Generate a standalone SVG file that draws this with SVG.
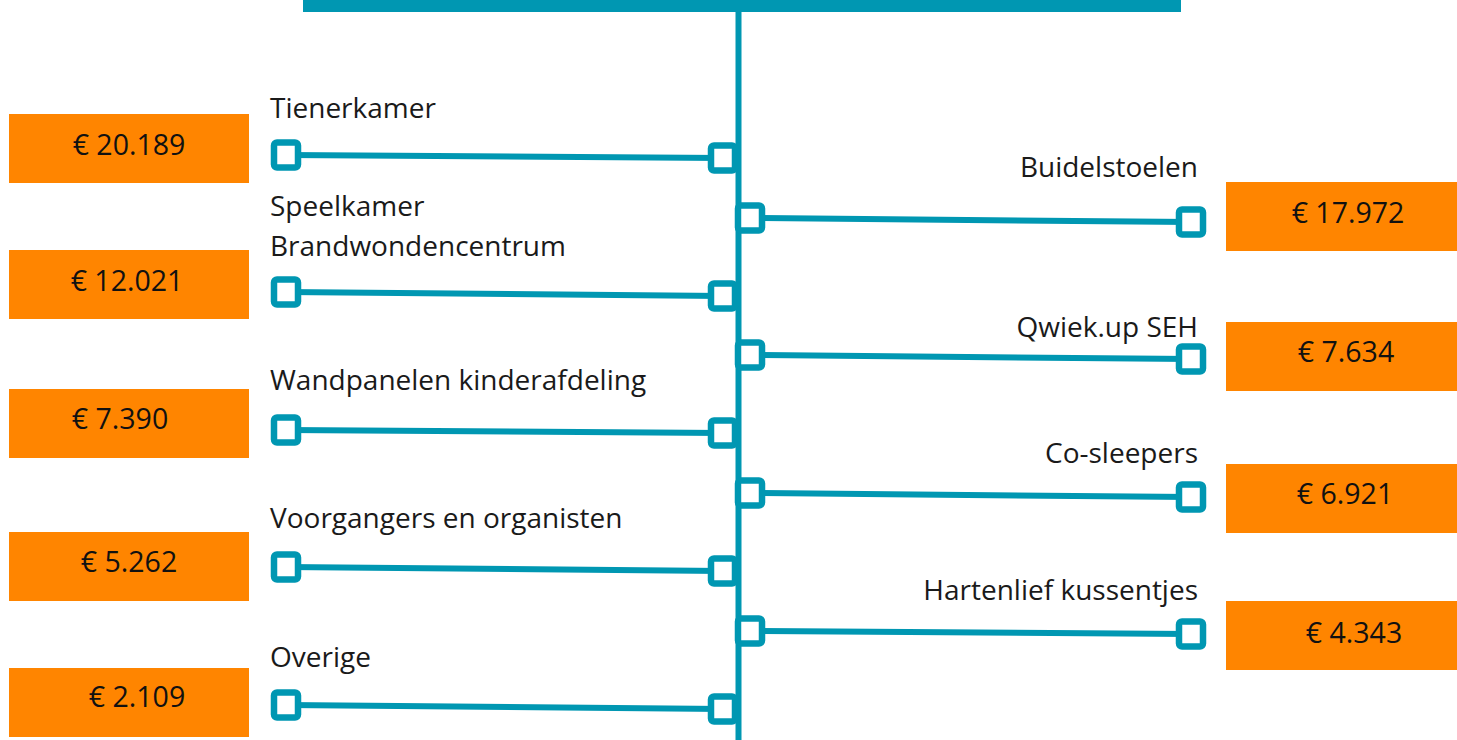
<svg xmlns="http://www.w3.org/2000/svg" width="1457" height="740" viewBox="0 0 1457 740">
<style>
.bar{fill:#0097b2}
.ln{stroke:#0097b2;stroke-width:6;fill:none}
.sq{stroke:#0097b2;stroke-width:6.5;fill:#fff}
.box{fill:#ff8500}
.lbl{font-family:"Open Sans","Noto Sans",sans-serif;font-size:28px;fill:#1a1a1a}
.val{font-family:"Open Sans","Noto Sans",sans-serif;font-size:28.5px;fill:#111;text-anchor:middle}
.r{text-anchor:end}
</style>
<defs>
<rect id="s" x="-12" y="-12.5" width="24" height="25" rx="3"/>
</defs>
<g id="connectors">
<rect class="bar" x="303" y="0" width="878" height="12"/>
<line class="ln" x1="738.5" y1="0" x2="738.5" y2="740"/>
<line class="ln" x1="286" y1="155" x2="723" y2="158"/>
<line class="ln" x1="286" y1="292" x2="723" y2="296"/>
<line class="ln" x1="286" y1="430" x2="723" y2="433"/>
<line class="ln" x1="286" y1="567" x2="723" y2="571"/>
<line class="ln" x1="286" y1="705" x2="723" y2="709"/>
<line class="ln" x1="750" y1="218" x2="1191" y2="222"/>
<line class="ln" x1="750" y1="355" x2="1191" y2="359"/>
<line class="ln" x1="750" y1="493" x2="1191" y2="497"/>
<line class="ln" x1="750" y1="631" x2="1191" y2="634"/>
</g>
<g id="n1">
<text class="lbl" x="270" y="118">Tienerkamer</text>
<use href="#s" class="sq" x="286" y="155"/><use href="#s" class="sq" x="723" y="158"/>
<rect class="box" x="9" y="114" width="240" height="69"/>
<text class="val" x="129" y="155">€ 20.189</text>
</g>
<g id="n2">
<text class="lbl" x="270" y="216">Speelkamer</text>
<text class="lbl" x="270" y="256">Brandwondencentrum</text>
<use href="#s" class="sq" x="286" y="292"/><use href="#s" class="sq" x="723" y="296"/>
<rect class="box" x="9" y="250" width="240" height="69"/>
<text class="val" x="127" y="291">€ 12.021</text>
</g>
<g id="n3">
<text class="lbl" x="270" y="390">Wandpanelen kinderafdeling</text>
<use href="#s" class="sq" x="286" y="430"/><use href="#s" class="sq" x="723" y="433"/>
<rect class="box" x="9" y="389" width="240" height="69"/>
<text class="val" x="120" y="429">€ 7.390</text>
</g>
<g id="n4">
<text class="lbl" x="270" y="528">Voorgangers en organisten</text>
<use href="#s" class="sq" x="286" y="567"/><use href="#s" class="sq" x="723" y="571"/>
<rect class="box" x="9" y="532" width="240" height="69"/>
<text class="val" x="129" y="572">€ 5.262</text>
</g>
<g id="n5">
<text class="lbl" x="270" y="667">Overige</text>
<use href="#s" class="sq" x="286" y="705"/><use href="#s" class="sq" x="723" y="709"/>
<rect class="box" x="9" y="668" width="240" height="69"/>
<text class="val" x="137" y="707">€ 2.109</text>
</g>
<g id="n6">
<text class="lbl r" x="1198" y="177">Buidelstoelen</text>
<use href="#s" class="sq" x="750" y="218"/><use href="#s" class="sq" x="1191" y="222"/>
<rect class="box" x="1226" y="182" width="231" height="69"/>
<text class="val" x="1348" y="223">€ 17.972</text>
</g>
<g id="n7">
<text class="lbl r" x="1198" y="337">Qwiek.up SEH</text>
<use href="#s" class="sq" x="750" y="355"/><use href="#s" class="sq" x="1191" y="359"/>
<rect class="box" x="1226" y="322" width="231" height="69"/>
<text class="val" x="1346" y="362">€ 7.634</text>
</g>
<g id="n8">
<text class="lbl r" x="1198" y="463">Co-sleepers</text>
<use href="#s" class="sq" x="750" y="493"/><use href="#s" class="sq" x="1191" y="497"/>
<rect class="box" x="1226" y="464" width="231" height="69"/>
<text class="val" x="1345" y="504">€ 6.921</text>
</g>
<g id="n9">
<text class="lbl r" x="1198" y="600">Hartenlief kussentjes</text>
<use href="#s" class="sq" x="750" y="631"/><use href="#s" class="sq" x="1191" y="634"/>
<rect class="box" x="1226" y="601" width="231" height="69"/>
<text class="val" x="1354" y="643">€ 4.343</text>
</g>
</svg>
